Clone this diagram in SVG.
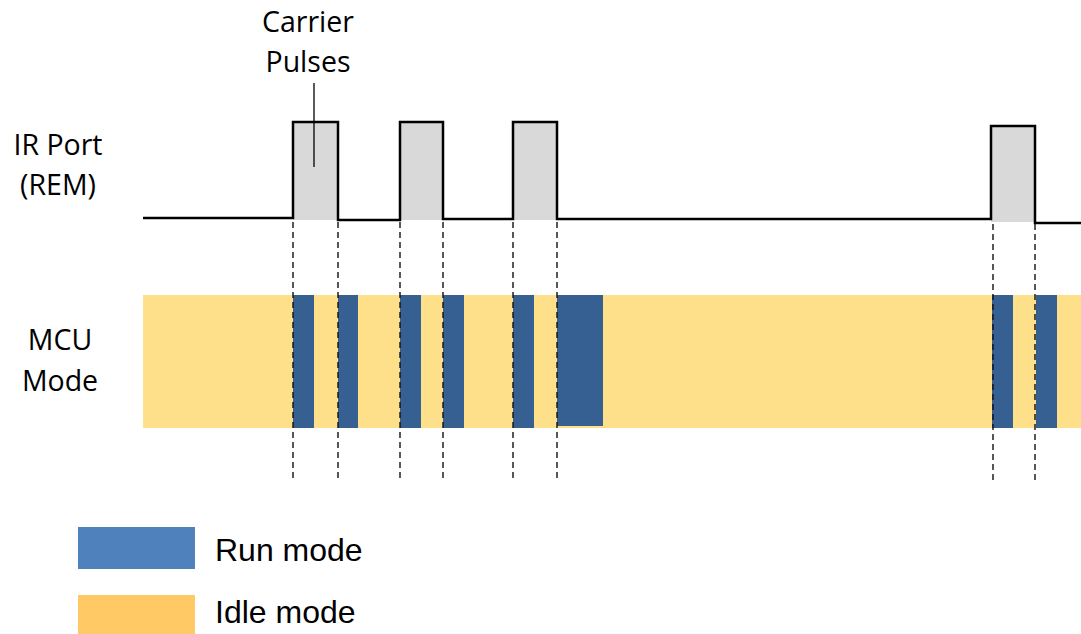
<svg xmlns="http://www.w3.org/2000/svg" width="1081" height="634" viewBox="0 0 1081 634">
<style>
.lbl{font-family:"Open Sans","Liberation Sans",sans-serif;font-size:28.5px;fill:#000;text-anchor:middle}
.leg{font-family:"Liberation Sans",Arial,sans-serif;font-size:32px;fill:#000}
.pulse{fill:#d9d9d9}
.run{fill:#366092}
.idle{fill:#ffe08a}
.dash{stroke:#111;stroke-width:1.4;stroke-dasharray:6,4;fill:none}
</style>
<rect width="1081" height="634" fill="#fff"/>
<g id="mcu-band">
<rect class="idle" x="143" y="295" width="938" height="133"/>
<rect class="run" x="293" y="295" width="21" height="133"/>
<rect class="run" x="338" y="295" width="20" height="133"/>
<rect class="run" x="400" y="295" width="21" height="133"/>
<rect class="run" x="443" y="295" width="21" height="133"/>
<rect class="run" x="513" y="295" width="21" height="133"/>
<rect class="run" x="557" y="295" width="46" height="131"/>
<rect class="run" x="992" y="295" width="21" height="133"/>
<rect class="run" x="1036" y="295" width="21" height="133"/>
</g>
<g id="ir-signal">
<rect class="pulse" x="293" y="122" width="45" height="98"/>
<rect class="pulse" x="400" y="122" width="43" height="98"/>
<rect class="pulse" x="513" y="122" width="44" height="98"/>
<rect class="pulse" x="991" y="126" width="44" height="96"/>
<path d="M143,218 H293 V122 H338 V220 H400 V122 H443 V219 H513 V122 H557 V219 H991 V126 H1035 V223 H1081" fill="none" stroke="#000" stroke-width="2.5"/>
</g>
<g id="connectors">
<line class="dash" x1="293" y1="222" x2="293" y2="480"/>
<line class="dash" x1="338" y1="222" x2="338" y2="480"/>
<line class="dash" x1="400" y1="222" x2="400" y2="480"/>
<line class="dash" x1="443" y1="222" x2="443" y2="480"/>
<line class="dash" x1="513" y1="222" x2="513" y2="480"/>
<line class="dash" x1="557" y1="222" x2="557" y2="480"/>
<line class="dash" x1="993" y1="224" x2="993" y2="480"/>
<line class="dash" x1="1035" y1="224" x2="1035" y2="480"/>
<line x1="314" y1="83" x2="314" y2="167" stroke="#000" stroke-width="1.3"/>
</g>
<g id="label-carrier">
<text class="lbl" x="308" y="32">Carrier</text>
<text class="lbl" x="308" y="72">Pulses</text>
</g>
<g id="label-ir">
<text class="lbl" x="58" y="155">IR Port</text>
<text class="lbl" x="58" y="195">(REM)</text>
</g>
<g id="label-mcu">
<text class="lbl" x="60" y="350">MCU</text>
<text class="lbl" x="60" y="391">Mode</text>
</g>
<g id="legend-run">
<rect x="78" y="527" width="117" height="42" fill="#4f81bd"/>
<text class="leg" x="215" y="561">Run mode</text>
</g>
<g id="legend-idle">
<rect x="78" y="595" width="117" height="39" fill="#ffca66"/>
<text class="leg" x="215" y="623">Idle mode</text>
</g>
</svg>
